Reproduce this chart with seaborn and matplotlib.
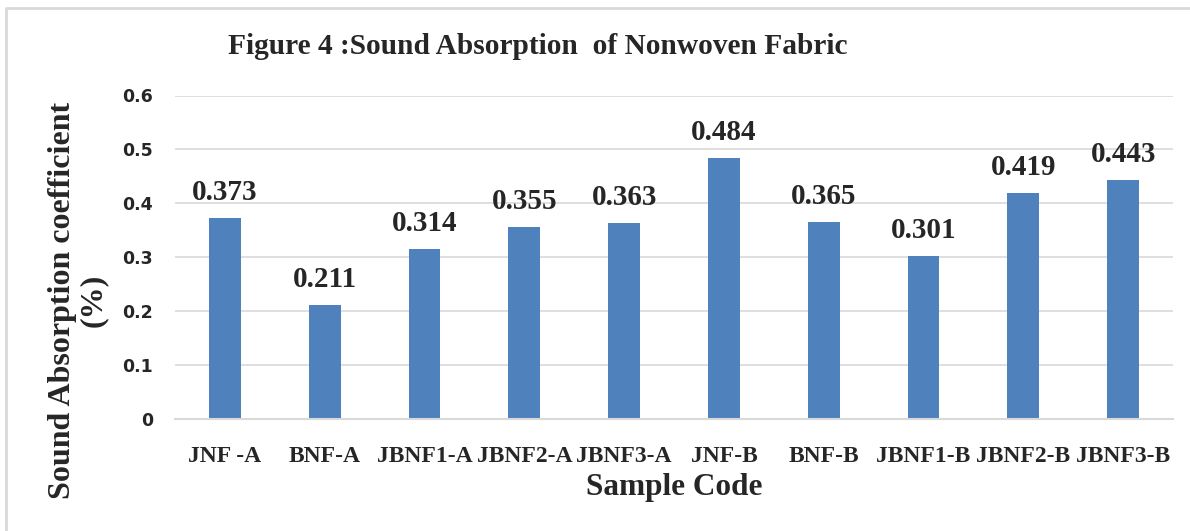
import matplotlib
matplotlib.use("Agg")
import matplotlib.pyplot as plt
from matplotlib.lines import Line2D
import seaborn as sns
import pandas as pd

samples = ["JNF -A", "BNF-A", "JBNF1-A", "JBNF2-A", "JBNF3-A",
           "JNF-B", "BNF-B", "JBNF1-B", "JBNF2-B", "JBNF3-B"]
values = [0.373, 0.211, 0.314, 0.355, 0.363, 0.484, 0.365, 0.301, 0.419, 0.443]
yticks = [0, 0.1, 0.2, 0.3, 0.4, 0.5, 0.6]
ytick_labels = ["0", "0.1", "0.2", "0.3", "0.4", "0.5", "0.6"]

title = "Figure 4 :Sound Absorption  of Nonwoven Fabric"
ylabel = "Sound Absorption coefficient\n(%)"
xlabel = "Sample Code"

sns.set_style("white")
plt.rcParams["font.family"] = ["Liberation Serif", "DejaVu Serif"]

W, H = 1190, 531
fig = plt.figure(figsize=(W / 100, H / 100), dpi=100)
ax = fig.add_axes([175 / W, 1 - 418.5 / H, (1173 - 175) / W, (418.5 - 95.5) / H])

df = pd.DataFrame({"Sample": samples, "Value": values})
sns.barplot(data=df, x="Sample", y="Value", color="#4f81bd", width=0.32,
            saturation=1, ax=ax, edgecolor="none")

ax.set_ylim(0, 0.6)
ax.set_xlim(-0.5, len(samples) - 0.5)
ax.set_yticks(yticks)
ax.set_yticklabels(ytick_labels, family="DejaVu Sans", fontweight="bold", fontsize=12.5)
ax.set_xticks(range(len(samples)))
ax.set_xticklabels(samples, fontweight="bold", fontsize=17)
ax.tick_params(axis="y", length=0, pad=16)
ax.tick_params(axis="x", length=0, pad=20)
ax.set_xlabel("")
ax.set_ylabel("")
ax.yaxis.grid(True, color="#d9d9d9", linewidth=1.2)
ax.set_axisbelow(True)
for s in ["top", "right", "left"]:
    ax.spines[s].set_visible(False)
ax.spines["bottom"].set_color("#d9d9d9")
ax.spines["bottom"].set_linewidth(1.5)

for p, v in zip(ax.patches, values):
    ax.annotate(f"{v:.3f}", (p.get_x() + p.get_width() / 2, p.get_height()),
                xytext=(0, 13), textcoords="offset points",
                ha="center", va="baseline", fontweight="bold", fontsize=21)

fig.text(537.5 / W, 1 - 47 / H, title, ha="center", va="center",
         fontweight="bold", fontsize=21.2)
fig.text(78 / W, 1 - 300 / H, ylabel, ha="center", va="center", rotation=90,
         multialignment="center", fontweight="bold", fontsize=23, linespacing=1.1)
fig.text(674 / W, 1 - 488 / H, xlabel, ha="center", va="center",
         fontweight="bold", fontsize=22.5)

# light outer frame (top and left edges visible)
fig.add_artist(Line2D([6 / W, 6 / W, 1.0], [0.0, 1 - 8 / H, 1 - 8 / H],
                      transform=fig.transFigure, color="#d9d9d9", linewidth=2))

fig.savefig("out.png", dpi=100, facecolor="white")
